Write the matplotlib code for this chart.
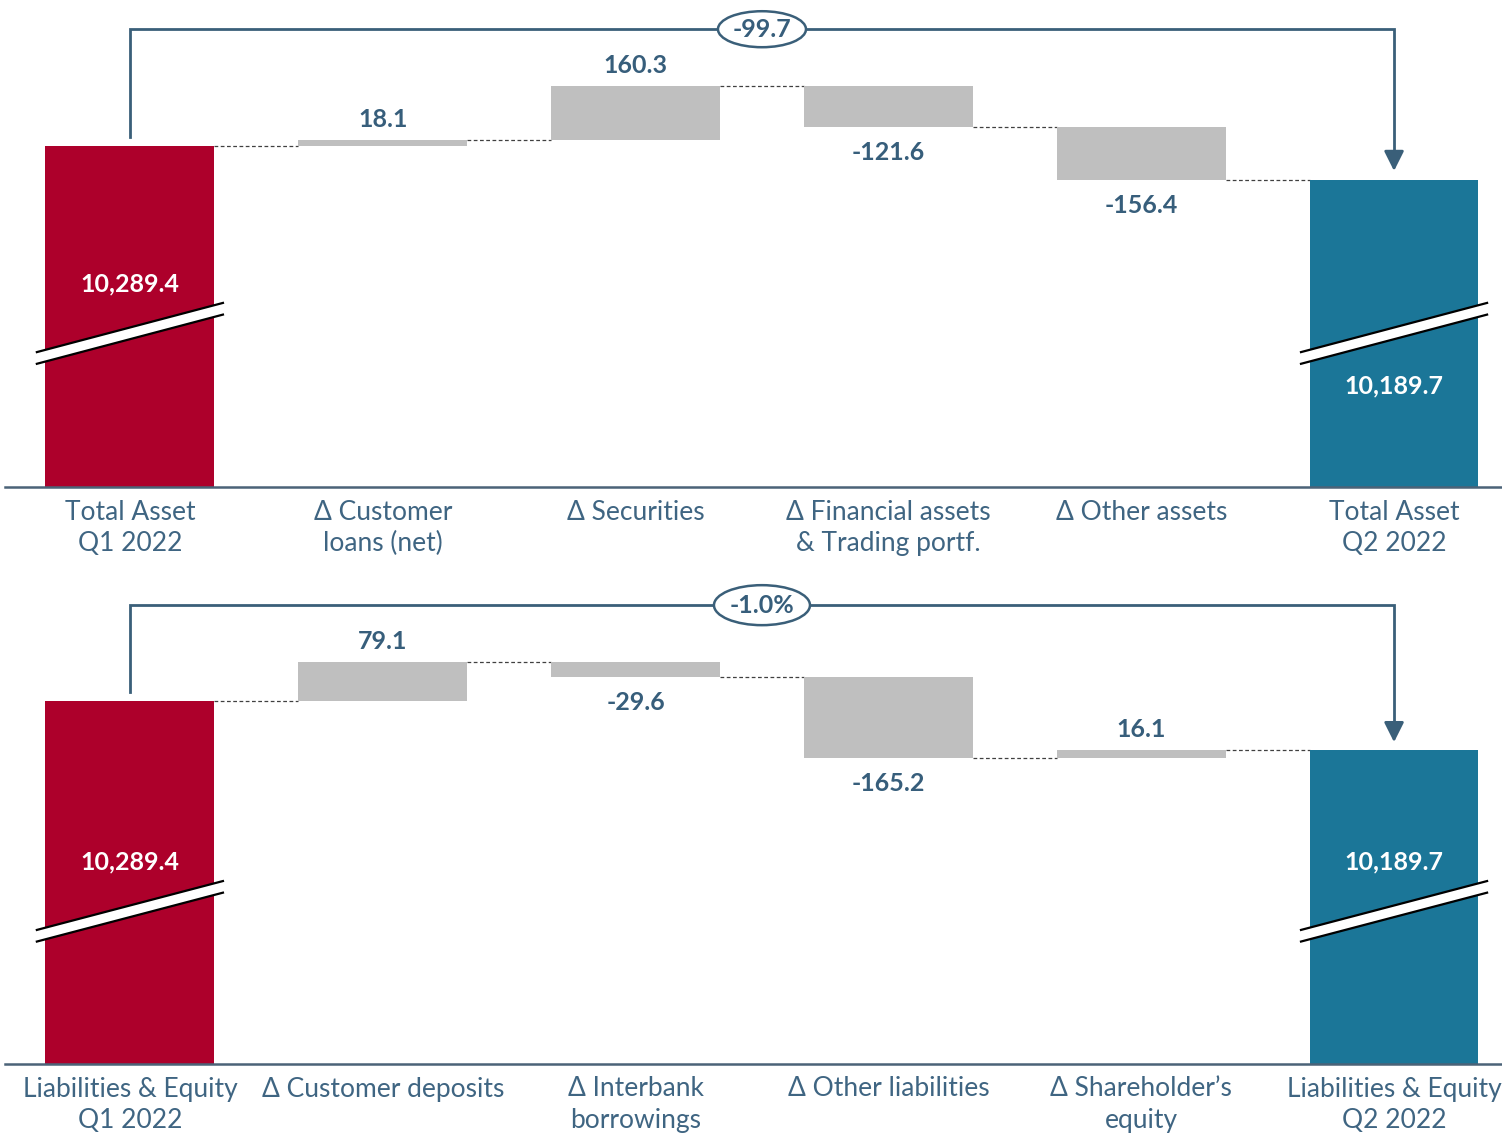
import matplotlib.pyplot as plt
import matplotlib.transforms as mtransforms
from matplotlib.patches import Ellipse, Polygon

plt.rcParams['font.family'] = ['Lato', 'DejaVu Sans']

# top panel: assets bridge
asset_labels = ['Total Asset\nQ1 2022', 'Δ Customer\nloans (net)', 'Δ Securities',
                'Δ Financial assets\n& Trading portf.', 'Δ Other assets', 'Total Asset\nQ2 2022']
asset_start = 10289.4
asset_deltas = [18.1, 160.3, -121.6, -156.4]
asset_end = 10189.7
asset_change = '-99.7'

# bottom panel: liabilities & equity bridge
liab_labels = ['Liabilities & Equity\nQ1 2022', 'Δ Customer deposits', 'Δ Interbank\nborrowings',
               'Δ Other liabilities', 'Δ Shareholder’s\nequity', 'Liabilities & Equity\nQ2 2022']
liab_start = 10289.4
liab_deltas = [79.1, -29.6, -165.2, 16.1]
liab_end = 10189.7
liab_change = '-1.0%'

RED = '#AD002B'
TEAL = '#1B7698'
GREY = '#BFBFBF'
NAVY = '#375E7B'
LABEL = '#3F6582'
W = 0.668

fig = plt.figure(figsize=(15.02, 11.34), dpi=100)


def waterfall(ax, labels, start, deltas, end, change, ylim, bracket_y, bracket_from, arrow_tip,
              end_label_y, oval_w, oval_h):
    n = len(deltas) + 2
    floor = ylim[0]
    ax.set_xlim(-0.494, 5.427)
    ax.set_ylim(*ylim)
    blend = mtransforms.blended_transform_factory(ax.transData, ax.transAxes)

    # totals drawn from the axis floor (broken axis)
    ax.bar(0, start - floor, bottom=floor, width=W, color=RED, zorder=2)
    ax.bar(n - 1, end - floor, bottom=floor, width=W, color=TEAL, zorder=2)

    level = start
    for i, d in enumerate(deltas, start=1):
        lo = min(level, level + d)
        ax.bar(i, abs(d), bottom=lo, width=W, color=GREY, zorder=2)
        # dashed connector from previous bar
        ax.plot([i - 1 + W / 2, i - W / 2], [level, level], color='#404040',
                lw=0.9, ls=(0, (3, 2)), zorder=1)
        off = 15 if d >= 0 else -18.5
        ax.annotate(f'{d:.1f}', (i, level + d), xytext=(0, off), textcoords='offset points',
                    ha='center', va='center', fontsize=18, fontweight='bold', color=NAVY)
        level += d
    ax.plot([n - 2 + W / 2, n - 1 - W / 2], [level, level], color='#404040',
            lw=0.9, ls=(0, (3, 2)), zorder=1)

    # total labels
    ax.text(0, 0.417, f'{start:,.1f}', transform=blend, ha='center', va='center',
            fontsize=18, fontweight='bold', color='white', zorder=4)
    ax.text(n - 1, end_label_y, f'{end:,.1f}', transform=blend, ha='center', va='center',
            fontsize=18, fontweight='bold', color='white', zorder=4)

    # axis-break marks on the total bars
    for xc in (0, n - 1):
        x0, x1 = xc - 0.368, xc + 0.368
        ax.add_patch(Polygon([(x0, 0.253), (x1, 0.354), (x1, 0.378), (x0, 0.277)],
                             closed=True, facecolor='white', edgecolor='none',
                             transform=blend, zorder=3))
        for ya, yb in ((0.253, 0.354), (0.277, 0.378)):
            ax.plot([x0, x1], [ya, yb], color='black', lw=1.6, transform=blend, zorder=3)

    # change bracket with arrow
    ax.plot([0, 0, n - 1, n - 1], [bracket_from, bracket_y, bracket_y, arrow_tip + 0.03],
            color='#3A5F79', lw=2, transform=blend, zorder=3, solid_joinstyle='miter')
    ax.annotate('', xy=(n - 1, arrow_tip), xycoords=blend,
                xytext=(n - 1, arrow_tip + 0.04), textcoords=blend,
                arrowprops=dict(arrowstyle='-|>,head_width=0.4,head_length=0.8',
                                color='#3A5F79', lw=2, mutation_scale=15, shrinkA=0, shrinkB=0),
                zorder=3)
    xm = (n - 1) / 2
    ax.add_patch(Ellipse((xm, bracket_y), oval_w / 252.8, oval_h, transform=blend,
                         facecolor='white', edgecolor='#3A5F79', lw=1.8, zorder=4))
    ax.text(xm, bracket_y, change, transform=blend, ha='center', va='center',
            fontsize=18, fontweight='bold', color=NAVY, zorder=5)

    for s in ('top', 'left', 'right'):
        ax.spines[s].set_visible(False)
    ax.spines['bottom'].set_color('#4B6378')
    ax.spines['bottom'].set_linewidth(1.8)
    ax.spines['bottom'].set_zorder(5)
    ax.set_yticks([])
    ax.set_xticks(range(n))
    ax.set_xticklabels(labels, fontsize=19, color=LABEL, linespacing=1.33)
    ax.tick_params(axis='x', length=0, pad=9)
    ax.patch.set_alpha(0)


ax_top = fig.add_axes([5 / 1502, 1 - 487 / 1134, 1497 / 1502, 487 / 1134])
waterfall(ax_top, asset_labels, asset_start, asset_deltas, asset_end, asset_change,
          (9277.5, 10722.5), 0.940, 0.719, 0.649, 0.207, 88, 36 / 487)

ax_bot = fig.add_axes([5 / 1502, 70 / 1134, 1497 / 1502, 484 / 1134])
waterfall(ax_bot, liab_labels, liab_start, liab_deltas, liab_end, liab_change,
          (9553.1, 10534.8), 0.948, 0.769, 0.665, 0.417, 96, 40 / 484)

fig.savefig('out.png', dpi=100)
